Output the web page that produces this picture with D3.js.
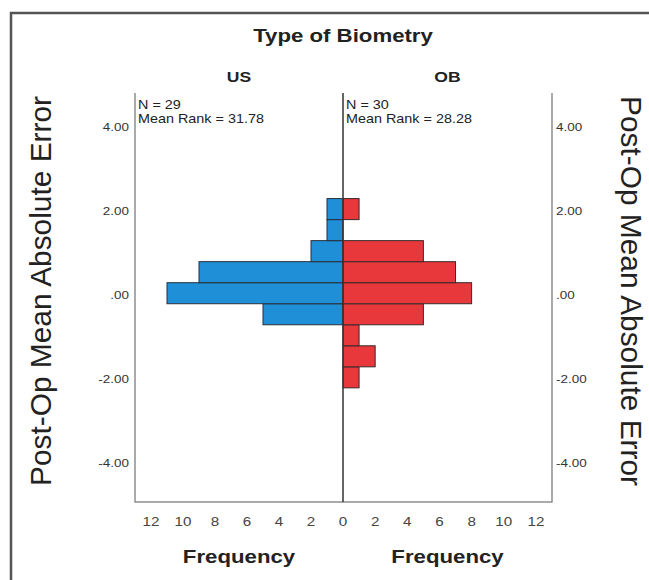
<!DOCTYPE html>
<html>
<head>
<meta charset="utf-8">
<script src="https://cdn.jsdelivr.net/npm/d3@7"></script>
<style>
  body { margin: 0; background: #fff; }
  text { font-family: "Liberation Sans", Arial, sans-serif; }
</style>
</head>
<body>
<svg id="chart" width="649" height="580"></svg>
<script>
// histogram bins (lower edge of each 0.5 wide bin) and counts per group
const binLower = [-2.21, -1.71, -1.21, -0.71, -0.21, 0.29, 0.79, 1.29, 1.79];
const binWidth = 0.5;
const usCounts = [0, 0, 0, 5, 11, 9, 2, 1, 1];
const obCounts = [1, 2, 1, 5, 8, 7, 5, 0, 1];

const groupNames = ["US", "OB"];
const groupN = [29, 30];
const meanRanks = ["31.78", "28.28"];

const yTicks = [-4, -2, 0, 2, 4];
const freqTicks = [2, 4, 6, 8, 10, 12];

const title = "Type of Biometry";
const yLabel = "Post-Op Mean Absolute Error";
const xLabel = "Frequency";

// the source picture is a little stretched sideways, text gets the same stretch
const sx = 1.17;

let svg = d3.select("#chart");

let pLeft = 135, pMid = 343, pRight = 552, pTop = 93, pBottom = 501;

let y = d3.scaleLinear().domain([-4.9, 4.8]).range([pBottom, pTop]);
let xL = d3.scaleLinear().domain([0, 13]).range([pMid, pLeft]);
let xR = d3.scaleLinear().domain([0, 13]).range([pMid, pRight]);

function label(x, yy, str, opts) {
  opts = opts || {};
  let rot = opts.rotate ? " rotate(" + opts.rotate + ")" : "";
  let s = opts.stretch || sx;
  return svg.append("text")
    .attr("transform", "translate(" + x + "," + yy + ") scale(" + s + ",1)" + rot)
    .attr("text-anchor", opts.anchor || "middle")
    .attr("font-size", opts.size || 12)
    .attr("font-weight", opts.bold ? "bold" : "normal")
    .attr("fill", opts.fill || "#222")
    .text(str);
}

// outer frame (only top and left edges show in the source)
svg.append("path")
  .attr("d", "M11,580 V13 H649")
  .attr("fill", "none")
  .attr("stroke", "#555")
  .attr("stroke-width", 2.5);

// bars
let usData = binLower.map((b, i) => ({ lo: b, n: usCounts[i] })).filter(d => d.n > 0);
let obData = binLower.map((b, i) => ({ lo: b, n: obCounts[i] })).filter(d => d.n > 0);

svg.append("g").selectAll("rect")
  .data(usData).enter()
  .append("rect")
  .attr("x", d => xL(d.n))
  .attr("y", d => y(d.lo + binWidth))
  .attr("width", d => xL(0) - xL(d.n))
  .attr("height", d => y(d.lo) - y(d.lo + binWidth))
  .attr("fill", "#1f90d8")
  .attr("stroke", "#2a2f3a")
  .attr("stroke-width", 1);

svg.append("g").selectAll("rect")
  .data(obData).enter()
  .append("rect")
  .attr("x", pMid)
  .attr("y", d => y(d.lo + binWidth))
  .attr("width", d => xR(d.n) - xR(0))
  .attr("height", d => y(d.lo) - y(d.lo + binWidth))
  .attr("fill", "#e8383c")
  .attr("stroke", "#3a2a2a")
  .attr("stroke-width", 1);

// panel lines
svg.append("path")
  .attr("d", "M" + pLeft + "," + pTop + " V" + (pBottom + 1) + " H" + pRight + " V" + pTop)
  .attr("fill", "none")
  .attr("stroke", "#8e8e8e")
  .attr("stroke-width", 1.5);

svg.append("line")
  .attr("x1", pMid).attr("x2", pMid)
  .attr("y1", pTop).attr("y2", pBottom + 1)
  .attr("stroke", "#333")
  .attr("stroke-width", 1.5);

// y tick labels on both sides
let fmtY = v => v === 0 ? ".00" : v.toFixed(2);
yTicks.forEach(v => {
  label(129, y(v) + 4, fmtY(v), { anchor: "end", size: 11.5, fill: "#333" });
  label(556, y(v) + 4, fmtY(v), { anchor: "start", size: 11.5, fill: "#333" });
});

// frequency ticks, mirrored
label(pMid, 526, "0", { size: 13, fill: "#444" });
freqTicks.forEach(v => {
  label(xL(v), 526, v, { size: 13, fill: "#444" });
  label(xR(v), 526, v, { size: 13, fill: "#444" });
});

// titles
label(pMid, 42, title, { size: 19, bold: true });
label((pLeft + pMid) / 2, 82, groupNames[0], { size: 15, bold: true });
label((pMid + pRight) / 2, 82, groupNames[1], { size: 15, bold: true });

label((pLeft + pMid) / 2, 563, xLabel, { size: 19, bold: true });
label((pMid + pRight) / 2, 563, xLabel, { size: 19, bold: true });

// stats in each panel corner
label(pLeft + 3, 109, "N = " + groupN[0], { anchor: "start", size: 12.3 });
label(pLeft + 3, 123, "Mean Rank = " + meanRanks[0], { anchor: "start", size: 12.3 });
label(pMid + 3, 109, "N = " + groupN[1], { anchor: "start", size: 12.3 });
label(pMid + 3, 123, "Mean Rank = " + meanRanks[1], { anchor: "start", size: 12.3 });

// big axis titles
label(51, 291, yLabel, { size: 27, rotate: -90, stretch: 1.1 })
  .attr("textLength", 390).attr("lengthAdjust", "spacingAndGlyphs");
label(621, 291, yLabel, { size: 27, rotate: 90, stretch: 1.1 })
  .attr("textLength", 390).attr("lengthAdjust", "spacingAndGlyphs");
</script>
</body>
</html>
